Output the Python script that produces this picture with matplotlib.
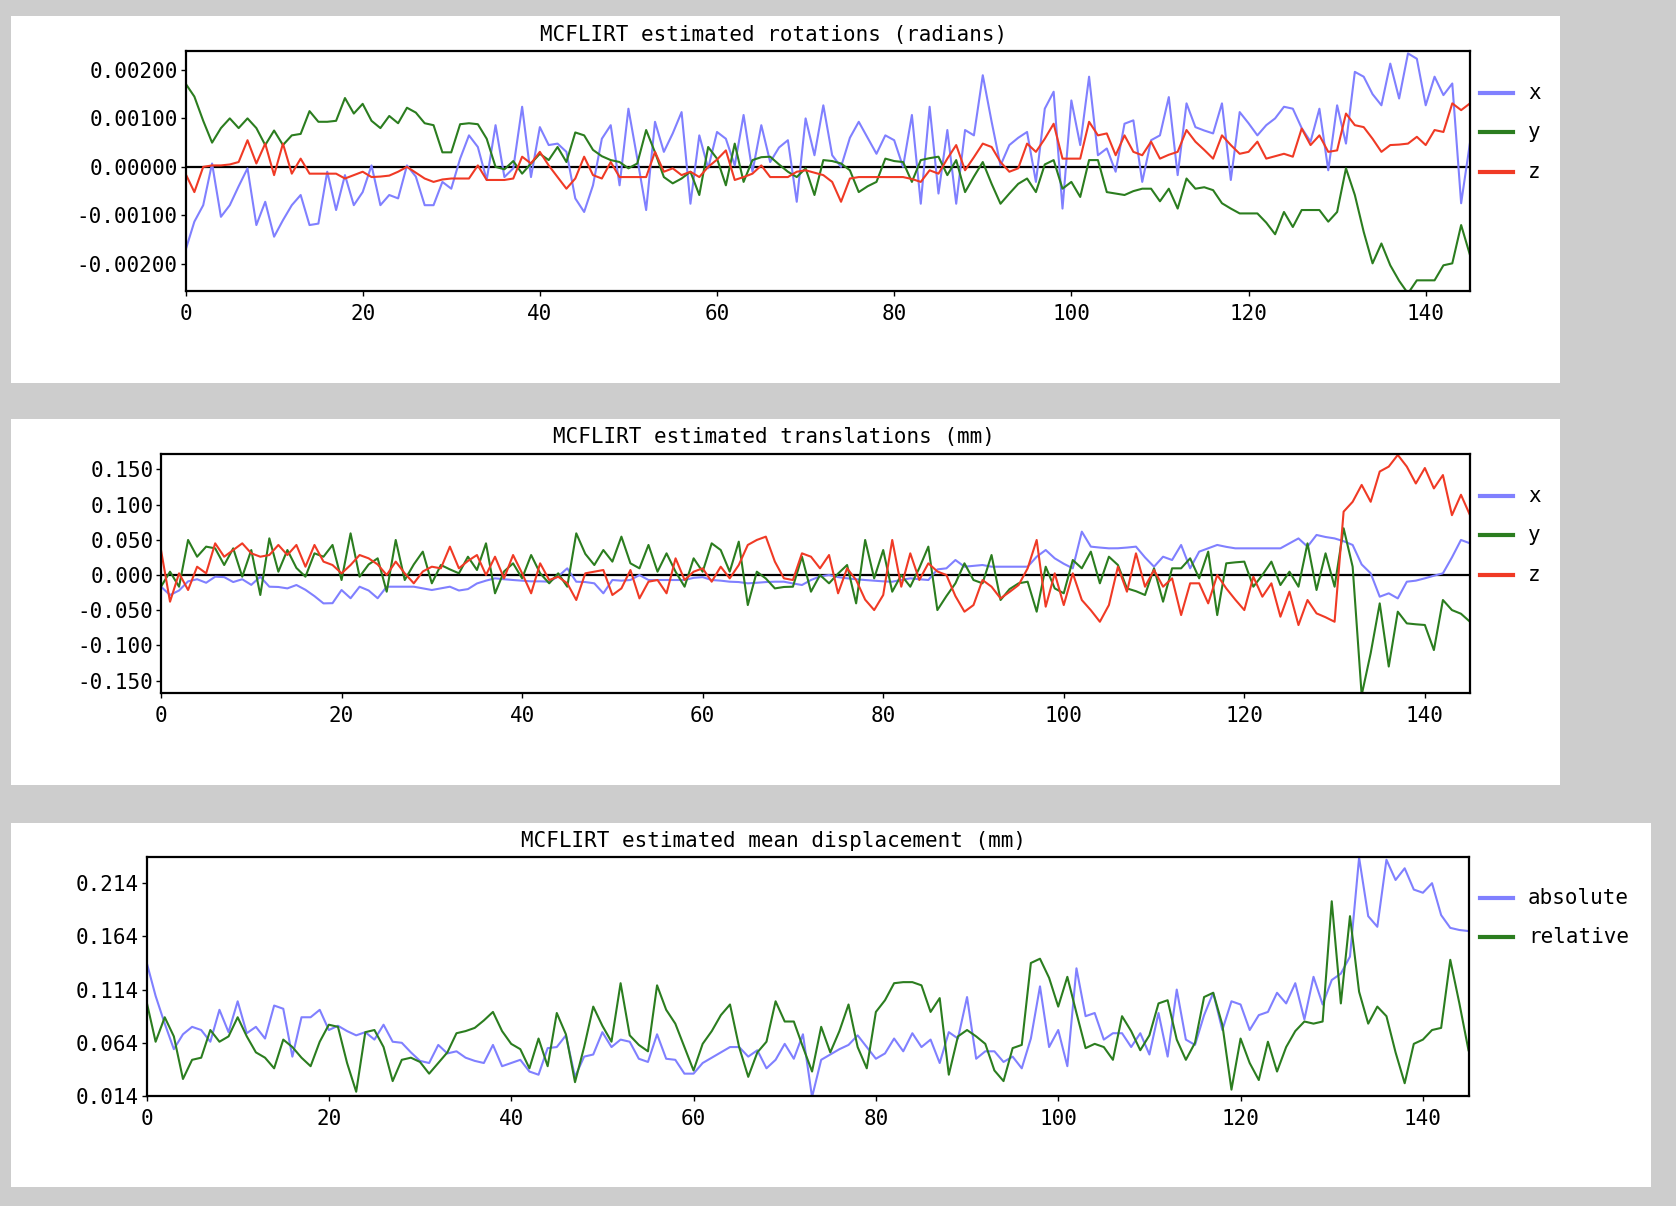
import matplotlib
matplotlib.use('Agg')
import matplotlib.pyplot as plt
from matplotlib.patches import Rectangle
from matplotlib.lines import Line2D
from matplotlib.ticker import FuncFormatter
import numpy as np

# MCFLIRT motion parameters, 146 volumes
vols = np.arange(146)

# rotations, in milliradians
rot_x = [-1.72, -1.13, -0.79, 0.07, -1.03, -0.79, -0.4, -0.03, -1.2, -0.72,
         -1.44, -1.1, -0.79, -0.58, -1.2, -1.17, -0.1, -0.89, -0.17, -0.79,
         -0.52, 0.03, -0.79, -0.58, -0.65, 0.03, -0.2, -0.79, -0.79, -0.31,
         -0.45, 0.17, 0.65, 0.41, -0.27, 0.86, -0.21, -0.03, 1.24, -0.21,
         0.82, 0.45, 0.48, 0.31, -0.65, -0.93, -0.38, 0.58, 0.86, -0.38,
         1.2, 0.17, -0.89, 0.93, 0.31, 0.69, 1.13, -0.76, 0.65, -0.03,
         0.72, 0.58, 0.03, 1.07, -0.1, 0.86, 0.1, 0.4, 0.55, -0.72,
         1.0, 0.24, 1.27, 0.24, 0.0, 0.6, 0.93, 0.6, 0.27, 0.65,
         0.55, 0.0, 1.07, -0.76, 1.24, -0.55, 0.76, -0.76, 0.76, 0.65,
         1.89, 0.93, 0.03, 0.45, 0.6, 0.72, -0.31, 1.2, 1.55, -0.86,
         1.37, 0.45, 1.86, 0.24, 0.38, -0.1, 0.89, 0.96, -0.31, 0.55,
         0.65, 1.44, -0.17, 1.31, 0.82, 0.75, 0.69, 1.31, -0.27, 1.13,
         0.9, 0.65, 0.86, 1.0, 1.24, 1.2, 0.8, 0.52, 1.2, -0.07,
         1.27, 0.48, 1.96, 1.86, 1.5, 1.27, 2.13, 1.41, 2.34, 2.23,
         1.27, 1.86, 1.48, 1.72, -0.75, 0.5]
rot_y = [1.72, 1.45, 0.95, 0.5, 0.8, 1.0, 0.8, 1.0, 0.8, 0.45,
         0.75, 0.45, 0.65, 0.68, 1.15, 0.93, 0.93, 0.95, 1.42, 1.1,
         1.3, 0.95, 0.8, 1.05, 0.9, 1.22, 1.12, 0.9, 0.86, 0.3,
         0.3, 0.88, 0.9, 0.88, 0.58, 0.0, -0.05, 0.12, -0.14, 0.07,
         0.27, 0.14, 0.41, 0.1, 0.71, 0.65, 0.35, 0.22, 0.14, 0.1,
         -0.03, 0.07, 0.76, 0.3, -0.21, -0.34, -0.24, -0.1, -0.58, 0.41,
         0.17, -0.38, 0.48, -0.31, 0.14, 0.2, 0.21, 0.05, -0.1, -0.21,
         -0.03, -0.58, 0.14, 0.12, 0.07, -0.07, -0.52, -0.4, -0.31, 0.17,
         0.12, 0.1, -0.31, 0.14, 0.18, 0.21, -0.17, 0.14, -0.52, -0.2,
         0.1, -0.35, -0.76, -0.55, -0.35, -0.24, -0.52, 0.05, 0.14, -0.45,
         -0.31, -0.62, 0.14, 0.14, -0.52, -0.55, -0.58, -0.5, -0.45, -0.45,
         -0.71, -0.45, -0.86, -0.24, -0.45, -0.42, -0.48, -0.75, -0.86, -0.96,
         -0.96, -0.96, -1.15, -1.39, -0.93, -1.24, -0.89, -0.89, -0.89, -1.13,
         -0.93, -0.03, -0.58, -1.34, -1.99, -1.58, -2.03, -2.35, -2.61, -2.34,
         -2.34, -2.34, -2.03, -1.99, -1.2, -1.82]
rot_z = [-0.14, -0.52, 0.0, 0.03, 0.03, 0.05, 0.1, 0.55, 0.07, 0.48,
         -0.17, 0.48, -0.14, 0.17, -0.14, -0.14, -0.14, -0.14, -0.24, -0.17,
         -0.1, -0.21, -0.2, -0.18, -0.1, 0.0, -0.12, -0.24, -0.31, -0.26,
         -0.24, -0.24, -0.24, 0.03, -0.27, -0.27, -0.27, -0.24, 0.21, 0.07,
         0.31, 0.03, -0.21, -0.45, -0.24, 0.21, -0.17, -0.24, 0.1, -0.21,
         -0.21, -0.21, -0.21, 0.31, -0.1, -0.03, -0.17, -0.1, -0.21, 0.0,
         0.15, 0.34, -0.27, -0.21, -0.14, 0.03, -0.21, -0.21, -0.21, -0.1,
         -0.07, -0.12, -0.17, -0.31, -0.72, -0.24, -0.21, -0.21, -0.21, -0.21,
         -0.21, -0.21, -0.25, -0.31, -0.07, -0.14, 0.17, 0.45, -0.07, 0.2,
         0.48, 0.41, 0.1, -0.1, -0.03, 0.48, 0.31, 0.58, 0.89, 0.17,
         0.17, 0.17, 0.93, 0.65, 0.69, 0.24, 0.65, 0.31, 0.24, 0.52,
         0.17, 0.25, 0.31, 0.76, 0.52, 0.35, 0.17, 0.65, 0.45, 0.27,
         0.31, 0.52, 0.17, 0.22, 0.27, 0.21, 0.79, 0.45, 0.65, 0.31,
         0.34, 1.1, 0.86, 0.82, 0.58, 0.31, 0.45, 0.46, 0.48, 0.62,
         0.45, 0.76, 0.72, 1.31, 1.17, 1.31]

# translations, in hundredths of a mm
trans_x = [-1.66, -2.84, -2.2, -0.9, -0.6, -1.1, -0.24, -0.3, -1.0, -0.6,
           -1.4, -0.24, -1.66, -1.7, -1.9, -1.42, -2.1, -3.0, -4.03, -4.0,
           -2.13, -3.3, -1.66, -2.2, -3.3, -1.66, -1.66, -1.66, -1.66, -1.9,
           -2.13, -1.9, -1.66, -2.2, -2.0, -1.2, -0.8, -0.47, -0.6, -0.71,
           -0.8, -0.9, -0.9, -0.95, -0.2, 0.95, -0.95, -1.0, -1.18, -2.6,
           -0.71, -0.8, -0.71, 0.0, -0.71, -0.71, -0.71, -0.71, -0.71, -0.4,
           -0.3, -0.71, -0.8, -0.95, -1.0, -1.18, -1.1, -1.0, -0.95, -0.95,
           -1.2, -1.42, -0.71, -0.2, 0.0, -0.3, -0.47, -0.6, -0.71, -0.8,
           -0.9, -0.95, -0.7, -0.47, -0.6, -0.71, 0.8, 0.95, 2.13, 1.18,
           1.3, 1.42, 1.18, 1.18, 1.18, 1.18, 1.18, 2.6, 3.55, 2.37,
           1.6, 0.95, 6.16, 4.03, 3.9, 3.79, 3.8, 3.9, 4.03, 2.5,
           1.18, 2.6, 2.13, 4.27, 0.95, 3.32, 3.8, 4.27, 4.0, 3.79,
           3.79, 3.79, 3.79, 3.79, 3.79, 4.5, 5.2, 4.03, 5.69, 5.4,
           5.2, 4.8, 4.27, 1.5, 0.24, -3.08, -2.6, -3.32, -0.95, -0.8,
           -0.47, -0.1, 0.24, 2.5, 4.98, 4.5]
trans_y = [-1.66, 0.47, -1.66, 4.98, 2.6, 4.03, 3.79, 1.42, 3.79, -0.24,
           3.55, -2.84, 5.21, 0.47, 3.55, 1.0, -0.24, 3.08, 2.6, 4.27,
           -0.71, 5.92, -0.24, 1.5, 2.37, -2.37, 4.98, -0.71, 1.5, 3.32,
           -1.18, 1.42, 0.8, 0.24, 2.6, 0.71, 4.5, -2.6, 0.5, 1.66,
           -0.47, 2.84, 0.24, -1.18, 0.24, -1.66, 5.92, 3.0, 1.42, 3.55,
           1.9, 5.45, 1.66, 0.95, 4.27, 0.47, 3.08, 0.47, -1.66, 2.37,
           0.47, 4.5, 3.55, 0.47, 4.74, -4.27, 0.47, -0.5, -1.9, -1.7,
           -1.66, 2.6, -2.37, 0.0, -1.18, 0.2, 1.42, -4.03, 4.98, -0.47,
           3.55, -2.37, 0.0, -1.66, 1.0, 4.03, -4.98, -3.0, -1.18, 1.66,
           -0.71, -1.18, 2.84, -3.55, -2.0, -1.18, -0.95, -5.21, 1.18, -1.9,
           -2.6, 2.13, 0.95, 3.32, -1.18, 2.6, 1.42, -1.9, -2.3, -2.84,
           0.95, -3.79, 0.95, 0.95, 2.37, -0.47, 3.32, -5.69, 1.66, 1.8,
           1.9, -1.66, 0.0, 1.9, -1.42, 0.47, -1.66, 4.5, -2.13, 3.08,
           -1.66, 6.64, 1.18, -17.06, -11.1, -4.03, -13.0, -5.21, -6.87, -7.0,
           -7.1, -10.66, -3.55, -4.98, -5.5, -6.64]
trans_z = [3.55, -3.79, 0.24, -2.13, 1.18, 0.24, 4.5, 2.6, 3.55, 4.5,
           3.08, 2.6, 2.84, 4.27, 2.84, 4.27, 1.18, 4.27, 1.9, 1.42,
           0.24, 1.42, 2.84, 2.37, 1.5, 0.0, 1.9, 0.24, -1.18, 0.5,
           1.18, 0.95, 4.03, 0.95, 2.0, 2.84, 0.0, 2.6, -0.47, 2.84,
           0.24, -2.6, 1.66, -0.71, -0.24, -1.18, -3.55, 0.24, 0.47, 0.71,
           -2.84, -1.9, 0.71, -3.32, -0.95, -0.71, -2.6, 2.37, -0.71, 0.47,
           0.95, -0.95, 1.18, -0.47, 1.42, 4.27, 4.98, 5.45, 1.9, -0.47,
           -0.71, 3.08, 2.6, 0.95, 2.84, -2.6, 0.95, -0.71, -3.5, -4.98,
           -2.84, 4.98, -1.66, 3.08, -0.71, 1.66, 0.5, 0.0, -3.0, -5.21,
           -4.27, -0.71, -1.66, -3.32, -2.4, -1.42, 0.95, 4.98, -4.5, 0.24,
           -4.27, 0.24, -3.55, -5.0, -6.64, -4.27, 1.18, -2.37, 3.08, -1.66,
           0.71, -1.66, -0.47, -5.69, -1.18, -1.18, -4.03, 0.0, -1.9, -3.5,
           -4.98, -0.24, -3.08, -1.18, -5.92, -2.37, -7.11, -3.55, -5.45, -6.0,
           -6.64, 9.0, 10.4, 12.8, 10.4, 14.7, 15.4, 17.06, 15.4, 13.0,
           15.2, 12.3, 14.2, 8.5, 11.4, 8.5]

# mean displacement, in thousandths of a mm
disp_abs = [140, 108, 82, 58, 72, 79, 76, 65, 95, 74,
            103, 73, 79, 68, 99, 96, 51, 88, 88, 95,
            76, 80, 75, 71, 74, 67, 81, 65, 64, 55,
            47, 45, 62, 54, 56, 50, 47, 45, 62, 42,
            45, 48, 37, 34, 59, 60, 71, 32, 51, 53,
            74, 60, 67, 65, 49, 46, 72, 49, 48, 35,
            35, 45, 50, 55, 60, 60, 51, 57, 40, 48,
            63, 49, 72, 13, 48, 53, 58, 62, 71, 60,
            49, 54, 68, 56, 73, 60, 67, 45, 74, 68,
            107, 49, 56, 56, 46, 51, 40, 68, 117, 60,
            76, 42, 134, 89, 92, 67, 73, 73, 60, 73,
            53, 92, 51, 114, 67, 62, 90, 111, 76, 103,
            100, 76, 90, 93, 111, 101, 120, 86, 126, 100,
            123, 129, 145, 238, 183, 173, 236, 217, 228, 208,
            205, 214, 184, 172, 170, 169]
disp_rel = [103, 65, 88, 70, 30, 48, 50, 76, 65, 70,
            88, 70, 55, 50, 40, 67, 60, 50, 42, 65,
            81, 79, 45, 18, 74, 76, 60, 28, 48, 50,
            46, 35, 45, 55, 73, 75, 78, 85, 93, 75,
            63, 58, 40, 68, 42, 92, 72, 27, 60, 98,
            80, 65, 120, 71, 62, 56, 118, 95, 82, 60,
            38, 63, 75, 90, 100, 60, 32, 55, 65, 103,
            84, 84, 60, 37, 79, 55, 75, 100, 60, 40,
            93, 104, 120, 121, 121, 118, 93, 106, 34, 70,
            76, 70, 63, 38, 28, 59, 62, 139, 143, 125,
            98, 126, 92, 59, 63, 60, 48, 89, 75, 57,
            71, 101, 104, 67, 48, 64, 107, 111, 81, 20,
            68, 45, 29, 65, 37, 60, 75, 84, 82, 84,
            197, 101, 183, 112, 82, 98, 89, 55, 26, 63,
            67, 76, 78, 142, 101, 57]

W, H = 1676, 1206
BLUE, GREEN, RED = '#8080ff', '#2b7d1f', '#f03a25'
FONT = 'DejaVu Sans Mono'
FS = 15


def frac(x0, y0, x1, y1):
    # pixel box, top-left origin -> figure fraction rect
    return [x0 / W, 1 - y1 / H, (x1 - x0) / W, (y1 - y0) / H]


fig = plt.figure(figsize=(W / 100, H / 100), dpi=100)
fig.patch.set_facecolor('#cdcdcd')

panels = [
    dict(white=(11, 16, 1560, 383), axes=(185.5, 51, 1470, 291),
         title='MCFLIRT estimated rotations (radians)', ty=35,
         ylim=(-0.00256, 0.00239), yticks=[-0.002, -0.001, 0, 0.001, 0.002], fmt='%.5f',
         series=[(rot_x, 1e-3, BLUE, 'x'), (rot_y, 1e-3, GREEN, 'y'), (rot_z, 1e-3, RED, 'z')],
         leg_y=[93, 132, 172], zero=True),
    dict(white=(11, 419, 1560, 785), axes=(161, 454, 1470, 693),
         title='MCFLIRT estimated translations (mm)', ty=437,
         ylim=(-0.1676, 0.1719), yticks=[-0.15, -0.1, -0.05, 0, 0.05, 0.1, 0.15], fmt='%.3f',
         series=[(trans_x, 1e-2, BLUE, 'x'), (trans_y, 1e-2, GREEN, 'y'), (trans_z, 1e-2, RED, 'z')],
         leg_y=[496, 535, 575], zero=True),
    dict(white=(11, 823, 1651, 1187), axes=(146.5, 857, 1468.5, 1096),
         title='MCFLIRT estimated mean displacement (mm)', ty=841,
         ylim=(0.014, 0.2386), yticks=[0.014, 0.064, 0.114, 0.164, 0.214], fmt='%.3f',
         series=[(disp_abs, 1e-3, BLUE, 'absolute'), (disp_rel, 1e-3, GREEN, 'relative')],
         leg_y=[898, 937], zero=False),
]

for p in panels:
    x0, y0, x1, y1 = p['white']
    fig.patches.append(Rectangle((x0 / W, 1 - y1 / H), (x1 - x0) / W, (y1 - y0) / H,
                                 transform=fig.transFigure, facecolor='white',
                                 edgecolor='none', zorder=-5))

    ax = fig.add_axes(frac(*p['axes']))
    ax.set_zorder(2)
    ax.set_facecolor('white')
    if p['zero']:
        ax.axhline(0, color='black', lw=1.6, zorder=1)
    for vals, unit, col, lab in p['series']:
        ax.plot(vols, np.array(vals) * unit, color=col, lw=1.5, zorder=2)

    ax.set_xlim(0, 145)
    ax.set_ylim(*p['ylim'])
    ax.set_xticks([0, 20, 40, 60, 80, 100, 120, 140])
    ax.set_yticks(p['yticks'])
    f = p['fmt']
    ax.yaxis.set_major_formatter(FuncFormatter(lambda v, pos, f=f: (f % v).replace('\u2212', '-')))
    ax.tick_params(direction='out', length=3.5, width=1, labelsize=FS, color='black')
    ax.tick_params(axis='x', pad=6)
    ax.tick_params(axis='y', pad=2)
    for lbl in ax.get_xticklabels() + ax.get_yticklabels():
        lbl.set_fontfamily(FONT)
    for s in ax.spines.values():
        s.set_linewidth(1.6)
        s.set_color('black')

    fig.text(773.5 / W, 1 - p['ty'] / H, p['title'], ha='center', va='center',
             fontfamily=FONT, fontsize=FS, zorder=3)

    # legend to the right of the plot
    for (vals, unit, col, lab), ly in zip(p['series'], p['leg_y']):
        fig.add_artist(Line2D([1480 / W, 1513 / W], [1 - ly / H, 1 - ly / H],
                              transform=fig.transFigure, color=col, lw=3, zorder=3))
        fig.text(1528 / W, 1 - ly / H, lab, ha='left', va='center',
                 fontfamily=FONT, fontsize=FS, zorder=3)

fig.savefig('out.png', dpi=100, facecolor=fig.get_facecolor())
